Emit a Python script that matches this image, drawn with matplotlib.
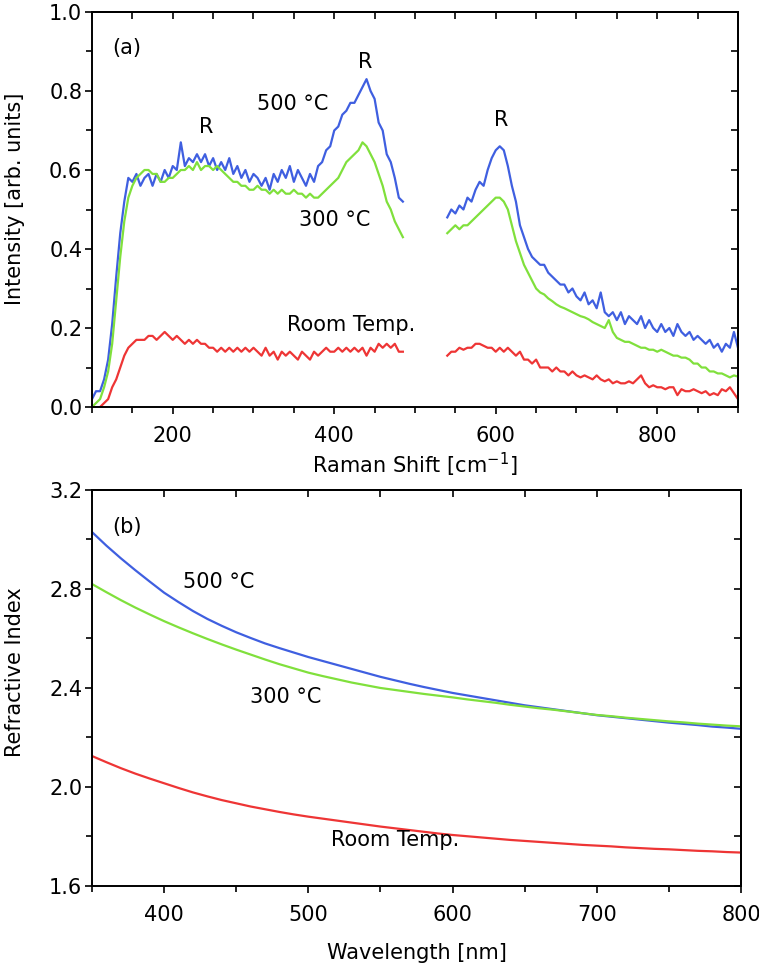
import numpy as np
import matplotlib.pyplot as plt
from matplotlib.ticker import MultipleLocator

plt.rcParams['font.family'] = ['DejaVu Sans']
plt.rcParams['mathtext.fontset'] = 'dejavusans'

FS = 15
C_500 = '#3f5fe0'
C_300 = '#80e03c'
C_RT = '#ee3535'

# ---- (a) Raman spectra, two measured windows ----
shift_left = np.arange(100, 490, 5)
shift_left_rt = np.arange(110, 490, 5)
shift_right = np.arange(540, 905, 5)

raman_500_left = [
    0.02, 0.04, 0.04, 0.07, 0.12, 0.21, 0.33, 0.44, 0.52, 0.58,
    0.57, 0.59, 0.56, 0.58, 0.59, 0.56, 0.59, 0.57, 0.60, 0.58,
    0.61, 0.60, 0.67, 0.61, 0.63, 0.62, 0.64, 0.62, 0.64, 0.61,
    0.63, 0.60, 0.62, 0.60, 0.63, 0.59, 0.61, 0.58, 0.60, 0.57,
    0.59, 0.58, 0.56, 0.58, 0.55, 0.59, 0.57, 0.60, 0.58, 0.61,
    0.57, 0.60, 0.58, 0.56, 0.59, 0.57, 0.61, 0.62, 0.65, 0.66,
    0.70, 0.71, 0.74, 0.75, 0.77, 0.77, 0.79, 0.81, 0.83, 0.80,
    0.78, 0.72, 0.70, 0.64, 0.62, 0.58, 0.53, 0.52]
raman_300_left = [
    0.00, 0.01, 0.02, 0.05, 0.09, 0.16, 0.27, 0.38, 0.47, 0.53,
    0.56, 0.58, 0.59, 0.60, 0.60, 0.59, 0.59, 0.57, 0.57, 0.58,
    0.58, 0.59, 0.60, 0.60, 0.61, 0.60, 0.62, 0.60, 0.61, 0.61,
    0.60, 0.61, 0.60, 0.59, 0.58, 0.57, 0.57, 0.56, 0.56, 0.55,
    0.55, 0.56, 0.55, 0.55, 0.54, 0.55, 0.54, 0.55, 0.54, 0.54,
    0.55, 0.54, 0.54, 0.53, 0.54, 0.53, 0.53, 0.54, 0.55, 0.56,
    0.57, 0.58, 0.60, 0.62, 0.63, 0.64, 0.65, 0.67, 0.66, 0.64,
    0.62, 0.59, 0.56, 0.52, 0.50, 0.47, 0.45, 0.43]
raman_rt_left = [
    0.00, 0.01, 0.02, 0.05, 0.07, 0.10, 0.13, 0.15, 0.16, 0.17,
    0.17, 0.17, 0.18, 0.18, 0.17, 0.18, 0.19, 0.18, 0.17, 0.18,
    0.17, 0.16, 0.17, 0.16, 0.17, 0.16, 0.16, 0.15, 0.15, 0.14,
    0.15, 0.14, 0.15, 0.14, 0.15, 0.14, 0.15, 0.14, 0.15, 0.14,
    0.13, 0.15, 0.13, 0.14, 0.12, 0.14, 0.13, 0.14, 0.13, 0.12,
    0.14, 0.13, 0.12, 0.14, 0.13, 0.14, 0.15, 0.14, 0.14, 0.15,
    0.14, 0.15, 0.14, 0.15, 0.14, 0.15, 0.13, 0.15, 0.14, 0.16,
    0.15, 0.16, 0.15, 0.16, 0.14, 0.14]

raman_500_right = [
    0.48, 0.50, 0.49, 0.51, 0.50, 0.53, 0.52, 0.55, 0.57, 0.56,
    0.60, 0.63, 0.65, 0.66, 0.65, 0.61, 0.56, 0.52, 0.46, 0.43,
    0.40, 0.38, 0.37, 0.36, 0.36, 0.34, 0.33, 0.32, 0.31, 0.31,
    0.29, 0.30, 0.28, 0.27, 0.29, 0.26, 0.27, 0.25, 0.29, 0.24,
    0.23, 0.24, 0.22, 0.24, 0.21, 0.23, 0.22, 0.21, 0.23, 0.20,
    0.22, 0.20, 0.19, 0.21, 0.19, 0.20, 0.18, 0.21, 0.19, 0.18,
    0.19, 0.17, 0.18, 0.17, 0.16, 0.17, 0.15, 0.16, 0.14, 0.16,
    0.15, 0.19, 0.15]
raman_300_right = [
    0.44, 0.45, 0.46, 0.45, 0.46, 0.46, 0.47, 0.48, 0.49, 0.50,
    0.51, 0.52, 0.53, 0.53, 0.52, 0.50, 0.46, 0.42, 0.39, 0.36,
    0.34, 0.32, 0.30, 0.29, 0.285, 0.275, 0.268, 0.26, 0.254, 0.25,
    0.245, 0.24, 0.235, 0.23, 0.227, 0.222, 0.215, 0.21, 0.205, 0.20,
    0.22, 0.19, 0.175, 0.17, 0.165, 0.165, 0.16, 0.155, 0.15, 0.15,
    0.145, 0.145, 0.14, 0.145, 0.14, 0.135, 0.13, 0.13, 0.125, 0.125,
    0.12, 0.11, 0.11, 0.10, 0.10, 0.09, 0.09, 0.085, 0.085, 0.08,
    0.075, 0.08, 0.077]
raman_rt_right = [
    0.13, 0.14, 0.14, 0.15, 0.145, 0.15, 0.15, 0.16, 0.16, 0.155,
    0.15, 0.15, 0.14, 0.15, 0.14, 0.15, 0.14, 0.13, 0.14, 0.12,
    0.12, 0.11, 0.12, 0.10, 0.10, 0.10, 0.09, 0.10, 0.09, 0.09,
    0.08, 0.09, 0.08, 0.075, 0.08, 0.075, 0.07, 0.08, 0.07, 0.065,
    0.07, 0.06, 0.065, 0.06, 0.06, 0.065, 0.06, 0.07, 0.08, 0.06,
    0.05, 0.055, 0.05, 0.05, 0.045, 0.05, 0.05, 0.03, 0.045, 0.04,
    0.04, 0.045, 0.04, 0.035, 0.04, 0.03, 0.035, 0.03, 0.045, 0.04,
    0.05, 0.035, 0.02]

# ---- (b) refractive index dispersion, every 10 nm ----
wavelength = np.arange(350, 810, 10)
n_500 = [3.030, 2.975, 2.924, 2.876, 2.830, 2.785, 2.747, 2.711, 2.679, 2.651,
         2.625, 2.602, 2.580, 2.561, 2.543, 2.525, 2.509, 2.493, 2.477, 2.461,
         2.445, 2.431, 2.417, 2.404, 2.392, 2.380, 2.370, 2.360, 2.350, 2.340,
         2.330, 2.322, 2.314, 2.306, 2.298, 2.290, 2.284, 2.278, 2.272, 2.266,
         2.260, 2.255, 2.250, 2.244, 2.240, 2.235]
n_300 = [2.820, 2.787, 2.755, 2.725, 2.697, 2.670, 2.645, 2.621, 2.598, 2.576,
         2.555, 2.535, 2.515, 2.496, 2.479, 2.462, 2.448, 2.435, 2.422, 2.411,
         2.400, 2.392, 2.384, 2.376, 2.369, 2.362, 2.354, 2.347, 2.340, 2.332,
         2.325, 2.318, 2.312, 2.305, 2.298, 2.291, 2.286, 2.280, 2.275, 2.270,
         2.265, 2.261, 2.256, 2.252, 2.248, 2.245]
n_rt = [2.125, 2.100, 2.076, 2.054, 2.034, 2.015, 1.996, 1.978, 1.962, 1.947,
        1.934, 1.921, 1.910, 1.899, 1.889, 1.880, 1.872, 1.864, 1.856, 1.848,
        1.840, 1.833, 1.826, 1.819, 1.812, 1.806, 1.801, 1.796, 1.791, 1.786,
        1.782, 1.778, 1.774, 1.770, 1.766, 1.763, 1.760, 1.756, 1.753, 1.750,
        1.748, 1.745, 1.742, 1.740, 1.737, 1.735]


def style_axes(ax, xmaj, xmin, ymaj, ymin, top_step, right_step):
    for s in ax.spines.values():
        s.set_linewidth(1.4)
    ax.xaxis.set_major_locator(MultipleLocator(xmaj))
    ax.xaxis.set_minor_locator(MultipleLocator(xmin))
    ax.yaxis.set_major_locator(MultipleLocator(ymaj))
    ax.yaxis.set_minor_locator(MultipleLocator(ymin))
    ax.yaxis.set_major_formatter(plt.FormatStrFormatter('%.1f'))
    ax.tick_params(which='both', direction='out', top=False, right=False,
                   width=1.2, labelsize=FS)
    ax.tick_params(which='major', length=5)
    ax.tick_params(which='minor', length=4)
    ax.tick_params(axis='x', pad=9)
    ax.tick_params(axis='y', pad=2)
    sx = ax.secondary_xaxis('top')
    sx.xaxis.set_major_locator(MultipleLocator(top_step))
    sx.tick_params(direction='in', length=5, width=1.2, labeltop=False)
    sx.spines['top'].set_linewidth(1.4)
    sy = ax.secondary_yaxis('right')
    sy.yaxis.set_major_locator(MultipleLocator(right_step))
    sy.tick_params(direction='in', length=5, width=1.2, labelright=False)
    sy.spines['right'].set_linewidth(1.4)


fig = plt.figure(figsize=(7.59, 9.67), dpi=100)
ax1 = fig.add_axes([0.1212, 0.5791, 0.9723 - 0.1212, 0.9876 - 0.5791])
ax2 = fig.add_axes([0.1212, 0.0838, 0.9763 - 0.1212, 0.4933 - 0.0838])

lw = 1.6
ax1.plot(shift_left, raman_500_left, color=C_500, lw=lw)
ax1.plot(shift_left, raman_300_left, color=C_300, lw=lw)
ax1.plot(shift_left_rt, raman_rt_left, color=C_RT, lw=lw)
ax1.plot(shift_right, raman_500_right, color=C_500, lw=lw)
ax1.plot(shift_right, raman_300_right, color=C_300, lw=lw)
ax1.plot(shift_right, raman_rt_right, color=C_RT, lw=lw)
ax1.set_xlim(100, 900)
ax1.set_ylim(0, 1.0)
style_axes(ax1, 200, 50, 0.2, 0.1, 50, 0.1)
ax1.set_xlabel(r'Raman Shift [cm$^{\mathregular{-1}}$]', fontsize=FS, labelpad=3)
ax1.set_ylabel('Intensity [arb. units]', fontsize=FS)
ax1.yaxis.set_label_coords(-0.104, 0.528)

ax1.text(143, 0.91, '(a)', fontsize=FS, ha='center', va='center')
ax1.text(242, 0.71, 'R', fontsize=FS, ha='center', va='center')
ax1.text(438, 0.873, 'R', fontsize=FS, ha='center', va='center')
ax1.text(607, 0.727, 'R', fontsize=FS, ha='center', va='center')
ax1.text(348, 0.767, '500 °C', fontsize=FS, ha='center', va='center')
ax1.text(401, 0.473, '300 °C', fontsize=FS, ha='center', va='center')
ax1.text(421, 0.208, 'Room Temp.', fontsize=FS, ha='center', va='center')

ax2.plot(wavelength, n_500, color=C_500, lw=lw)
ax2.plot(wavelength, n_300, color=C_300, lw=lw)
ax2.plot(wavelength, n_rt, color=C_RT, lw=lw)
ax2.set_xlim(350, 800)
ax2.set_ylim(1.6, 3.2)
style_axes(ax2, 100, 50, 0.4, 0.2, 50, 0.2)
ax2.set_xlabel('Wavelength [nm]', fontsize=FS, labelpad=13)
ax2.set_ylabel('Refractive Index', fontsize=FS)
ax2.yaxis.set_label_coords(-0.103, 0.54)

ax2.text(374, 3.05, '(b)', fontsize=FS, ha='center', va='center')
ax2.text(438, 2.83, '500 °C', fontsize=FS, ha='center', va='center')
ax2.text(484.5, 2.364, '300 °C', fontsize=FS, ha='center', va='center')
ax2.text(560, 1.786, 'Room Temp.', fontsize=FS, ha='center', va='center')

fig.savefig('out.png', dpi=100)
